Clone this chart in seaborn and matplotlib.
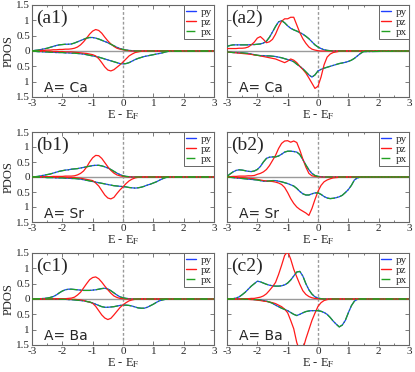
import matplotlib
matplotlib.use("Agg")
import matplotlib.pyplot as plt
from matplotlib.lines import Line2D
from matplotlib.ticker import MultipleLocator
import seaborn as sns

# energy grid (E - E_F), -3.0 .. 1.5 in 0.1 steps, then 3.0
energy = [-3.0, -2.9, -2.8, -2.7, -2.6, -2.5, -2.4, -2.3, -2.2, -2.1,
          -2.0, -1.9, -1.8, -1.7, -1.6, -1.5, -1.4, -1.3, -1.2, -1.1,
          -1.0, -0.9, -0.8, -0.7, -0.6, -0.5, -0.4, -0.3, -0.2, -0.1,
          0.0, 0.1, 0.2, 0.3, 0.4, 0.5, 0.6, 0.7, 0.8, 0.9,
          1.0, 1.1, 1.2, 1.3, 1.4, 1.5, 3.0]

# (a1) A = Ca
a1_py_up = [0.0, 0.02, 0.03, 0.05, 0.07, 0.09, 0.12, 0.15, 0.18, 0.2,
            0.21, 0.22, 0.22, 0.23, 0.26, 0.3, 0.34, 0.38, 0.42, 0.44,
            0.44, 0.42, 0.39, 0.35, 0.31, 0.27, 0.22, 0.17, 0.12, 0.08,
            0.05, 0.03, 0.02, 0.01, 0, 0, 0, 0, 0, 0,
            0, 0, 0, 0, 0, 0, 0]
a1_pz_up = [0.0, 0.01, 0.01, 0.02, 0.02, 0.03, 0.03, 0.04, 0.04, 0.05,
            0.05, 0.06, 0.06, 0.07, 0.09, 0.13, 0.2, 0.3, 0.42, 0.55,
            0.65, 0.7, 0.67, 0.58, 0.45, 0.33, 0.23, 0.15, 0.09, 0.06,
            0.04, 0.02, 0.01, 0, 0, 0, 0, 0, 0, 0,
            0, 0, 0, 0, 0, 0, 0]
a1_py_dn = [0, -0.01, -0.02, -0.02, -0.03, -0.03, -0.04, -0.04, -0.05, -0.05,
            -0.05, -0.06, -0.06, -0.07, -0.07, -0.08, -0.09, -0.1, -0.12, -0.14,
            -0.16, -0.18, -0.2, -0.23, -0.26, -0.29, -0.32, -0.35, -0.38, -0.41,
            -0.42, -0.41, -0.38, -0.33, -0.28, -0.24, -0.21, -0.18, -0.16, -0.14,
            -0.12, -0.1, -0.08, -0.06, -0.03, -0.01, 0]
a1_pz_dn = [0, 0, 0, -0.01, -0.01, -0.01, -0.01, -0.02, -0.02, -0.02,
            -0.02, -0.03, -0.03, -0.03, -0.04, -0.05, -0.06, -0.07, -0.08, -0.1,
            -0.12, -0.16, -0.25, -0.38, -0.52, -0.62, -0.65, -0.61, -0.53, -0.45,
            -0.36, -0.26, -0.16, -0.1, -0.05, -0.03, -0.01, 0, 0, 0,
            0, 0, 0, 0, 0, 0, 0]

# (a2) A = Ca
a2_py_up = [0.15, 0.18, 0.2, 0.2, 0.2, 0.2, 0.2, 0.2, 0.21, 0.21,
            0.22, 0.23, 0.26, 0.32, 0.45, 0.62, 0.8, 0.95, 0.99, 0.92,
            0.82, 0.74, 0.69, 0.65, 0.6, 0.55, 0.48, 0.4, 0.3, 0.2,
            0.13, 0.08, 0.04, 0.02, 0.01, 0, 0, 0, 0, 0,
            0, 0, 0, 0, 0, 0, 0]
a2_pz_up = [0.08, 0.08, 0.08, 0.08, 0.09, 0.09, 0.1, 0.13, 0.2, 0.29,
            0.42, 0.47, 0.38, 0.27, 0.3, 0.38, 0.55, 0.78, 0.97, 1.05,
            1.05, 1.1, 1.1, 0.85, 0.6, 0.4, 0.25, 0.13, 0.06, 0.03,
            0.01, 0, 0, 0, 0, 0, 0, 0, 0, 0,
            0, 0, 0, 0, 0, 0, 0]
a2_py_dn = [-0.03, -0.04, -0.05, -0.05, -0.06, -0.06, -0.07, -0.08, -0.1, -0.12,
            -0.14, -0.15, -0.15, -0.16, -0.16, -0.17, -0.18, -0.2, -0.22, -0.25,
            -0.28, -0.31, -0.35, -0.43, -0.5, -0.58, -0.68, -0.78, -0.85, -0.78,
            -0.65, -0.6, -0.56, -0.53, -0.5, -0.47, -0.44, -0.41, -0.39, -0.37,
            -0.34, -0.3, -0.24, -0.16, -0.08, -0.02, 0]
a2_pz_dn = [-0.03, -0.04, -0.05, -0.06, -0.07, -0.08, -0.09, -0.1, -0.11, -0.13,
            -0.14, -0.16, -0.18, -0.2, -0.22, -0.24, -0.26, -0.3, -0.34, -0.38,
            -0.33, -0.26, -0.3, -0.38, -0.5, -0.6, -0.72, -0.88, -1.05, -1.22,
            -1.15, -0.85, -0.45, -0.2, -0.1, -0.05, -0.03, -0.01, 0, 0,
            0, 0, 0, 0, 0, 0, 0]

# (b1) A = Sr
b1_py_up = [0, 0.01, 0.02, 0.04, 0.06, 0.08, 0.1, 0.13, 0.16, 0.19,
            0.21, 0.23, 0.24, 0.26, 0.27, 0.28, 0.3, 0.32, 0.34, 0.36,
            0.38, 0.39, 0.39, 0.37, 0.34, 0.3, 0.25, 0.19, 0.13, 0.08,
            0.04, 0.02, 0.01, 0, 0, 0, 0, 0, 0, 0,
            0, 0, 0, 0, 0, 0, 0]
b1_pz_up = [0, 0, 0, 0.01, 0.01, 0.01, 0.01, 0.02, 0.02, 0.02,
            0.02, 0.03, 0.03, 0.03, 0.04, 0.07, 0.12, 0.2, 0.33, 0.5,
            0.64, 0.72, 0.71, 0.62, 0.48, 0.34, 0.22, 0.13, 0.07, 0.04,
            0.02, 0.01, 0, 0, 0, 0, 0, 0, 0, 0,
            0, 0, 0, 0, 0, 0, 0]
b1_py_dn = [0, 0, -0.01, -0.01, -0.01, -0.02, -0.02, -0.02, -0.03, -0.03,
            -0.03, -0.04, -0.04, -0.05, -0.05, -0.06, -0.07, -0.09, -0.11, -0.13,
            -0.15, -0.17, -0.19, -0.21, -0.23, -0.25, -0.27, -0.29, -0.3, -0.31,
            -0.32, -0.33, -0.35, -0.36, -0.37, -0.36, -0.34, -0.31, -0.27, -0.24,
            -0.2, -0.16, -0.11, -0.06, -0.02, 0, 0]
b1_pz_dn = [0, 0, 0, 0, 0, 0, -0.01, -0.01, -0.01, -0.01,
            -0.01, -0.01, -0.02, -0.02, -0.02, -0.03, -0.04, -0.06, -0.08, -0.1,
            -0.12, -0.2, -0.3, -0.45, -0.6, -0.7, -0.73, -0.68, -0.55, -0.43,
            -0.33, -0.22, -0.13, -0.07, -0.03, -0.01, 0, 0, 0, 0,
            0, 0, 0, 0, 0, 0, 0]

# (b2) A = Sr
b2_py_up = [0.02, 0.1, 0.17, 0.22, 0.24, 0.23, 0.21, 0.19, 0.18, 0.2,
            0.25, 0.35, 0.5, 0.62, 0.66, 0.67, 0.67, 0.7, 0.76, 0.83,
            0.86, 0.86, 0.85, 0.83, 0.75, 0.58, 0.4, 0.24, 0.12, 0.05,
            0.02, 0.01, 0, 0, 0, 0, 0, 0, 0, 0,
            0, 0, 0, 0, 0, 0, 0]
b2_pz_up = [0.01, 0.01, 0.02, 0.02, 0.03, 0.03, 0.03, 0.04, 0.04, 0.05,
            0.09, 0.12, 0.17, 0.25, 0.38, 0.55, 0.72, 0.95, 1.12, 1.2,
            1.21, 1.16, 1.2, 1.15, 0.9, 0.6, 0.33, 0.12, 0.04, 0.02,
            0.01, 0, 0, 0, 0, 0, 0, 0, 0, 0,
            0, 0, 0, 0, 0, 0, 0]
b2_py_dn = [0, -0.01, -0.02, -0.03, -0.04, -0.05, -0.06, -0.07, -0.08, -0.09,
            -0.1, -0.12, -0.14, -0.14, -0.13, -0.12, -0.12, -0.14, -0.16, -0.19,
            -0.22, -0.26, -0.3, -0.38, -0.48, -0.56, -0.6, -0.6, -0.56, -0.53,
            -0.53, -0.58, -0.65, -0.7, -0.72, -0.71, -0.69, -0.66, -0.61, -0.52,
            -0.42, -0.28, -0.1, -0.03, 0, 0, 0]
b2_pz_dn = [-0.01, -0.01, -0.01, -0.02, -0.02, -0.02, -0.03, -0.04, -0.05, -0.06,
            -0.08, -0.1, -0.12, -0.13, -0.14, -0.15, -0.17, -0.2, -0.25, -0.35,
            -0.52, -0.72, -0.88, -1.0, -1.08, -1.14, -1.2, -1.28, -1.05, -0.75,
            -0.48, -0.28, -0.16, -0.1, -0.06, -0.03, -0.02, -0.01, 0, 0,
            0, 0, 0, 0, 0, 0, 0]

# (c1) A = Ba
c1_py_up = [0, 0, 0.01, 0.01, 0.02, 0.03, 0.05, 0.08, 0.13, 0.2,
            0.26, 0.3, 0.32, 0.32, 0.31, 0.3, 0.29, 0.28, 0.28, 0.28,
            0.29, 0.3, 0.32, 0.34, 0.35, 0.33, 0.27, 0.2, 0.13, 0.07,
            0.04, 0.02, 0.01, 0, 0, 0, 0, 0, 0, 0,
            0, 0, 0, 0, 0, 0, 0]
c1_pz_up = [0, 0, 0, 0, 0, 0, 0, 0.01, 0.01, 0.01,
            0.01, 0.01, 0.02, 0.03, 0.06, 0.13, 0.22, 0.36, 0.5, 0.63,
            0.7, 0.72, 0.66, 0.55, 0.42, 0.3, 0.19, 0.1, 0.05, 0.02,
            0.01, 0, 0, 0, 0, 0, 0, 0, 0, 0,
            0, 0, 0, 0, 0, 0, 0]
c1_py_dn = [0, 0, 0, 0, 0, 0, 0, 0, -0.01, -0.01,
            -0.01, -0.01, -0.02, -0.02, -0.03, -0.04, -0.05, -0.06, -0.08, -0.1,
            -0.13, -0.17, -0.21, -0.25, -0.27, -0.27, -0.26, -0.25, -0.23, -0.21,
            -0.2, -0.2, -0.21, -0.23, -0.26, -0.29, -0.3, -0.3, -0.27, -0.22,
            -0.17, -0.11, -0.06, -0.03, -0.01, 0, 0]
c1_pz_dn = [0, 0, 0, 0, 0, 0, 0, 0, 0, 0,
            0, 0, -0.01, -0.01, -0.01, -0.02, -0.03, -0.05, -0.08, -0.1,
            -0.14, -0.24, -0.38, -0.52, -0.62, -0.67, -0.63, -0.52, -0.4, -0.28,
            -0.19, -0.12, -0.06, -0.03, -0.01, 0, 0, 0, 0, 0,
            0, 0, 0, 0, 0, 0, 0]

# (c2) A = Ba
c2_py_up = [0, 0, 0.01, 0.03, 0.07, 0.14, 0.22, 0.32, 0.42, 0.5,
            0.58, 0.56, 0.52, 0.48, 0.45, 0.43, 0.42, 0.42, 0.43, 0.46,
            0.52, 0.62, 0.75, 0.88, 0.9, 0.75, 0.5, 0.3, 0.16, 0.07,
            0.03, 0.01, 0, 0, 0, 0, 0, 0, 0, 0,
            0, 0, 0, 0, 0, 0, 0]
c2_pz_up = [0, 0, 0, 0, 0, 0.01, 0.01, 0.01, 0.02, 0.02,
            0.04, 0.06, 0.1, 0.17, 0.28, 0.4, 0.54, 0.8, 1.1, 1.42,
            1.55, 1.3, 0.97, 0.72, 0.48, 0.27, 0.15, 0.08, 0.04, 0.02,
            0.01, 0, 0, 0, 0, 0, 0, 0, 0, 0,
            0, 0, 0, 0, 0, 0, 0]
c2_py_dn = [0, 0, 0, 0, 0, 0, -0.01, -0.01, -0.01, -0.02,
            -0.02, -0.03, -0.05, -0.07, -0.1, -0.14, -0.2, -0.25, -0.3, -0.34,
            -0.38, -0.44, -0.5, -0.54, -0.5, -0.45, -0.41, -0.39, -0.38, -0.38,
            -0.38, -0.4, -0.44, -0.5, -0.6, -0.72, -0.82, -0.91, -0.85, -0.7,
            -0.45, -0.22, -0.07, -0.01, 0, 0, 0]
c2_pz_dn = [0, 0, 0, 0, 0, 0, 0, -0.01, -0.02, -0.02,
            -0.04, -0.05, -0.07, -0.08, -0.1, -0.12, -0.15, -0.2, -0.25, -0.33,
            -0.45, -0.7, -0.97, -1.42, -1.7, -1.65, -1.3, -1.0, -0.7, -0.46,
            -0.24, -0.12, -0.05, -0.02, 0, 0, 0, 0, 0, 0,
            0, 0, 0, 0, 0, 0, 0]

panel_tags = ["(a1)", "(a2)", "(b1)", "(b2)", "(c1)", "(c2)"]
site_labels = ["A= Ca", "A= Ca", "A= Sr", "A= Sr", "A= Ba", "A= Ba"]
y_ticks = [-1.5, -1, -0.5, 0, 0.5, 1, 1.5]
y_ticklabels = ["1.5", "1", "0.5", "0", "0.5", "1", "1.5"]

panels = [
    (a1_py_up, a1_py_dn, a1_pz_up, a1_pz_dn),
    (a2_py_up, a2_py_dn, a2_pz_up, a2_pz_dn),
    (b1_py_up, b1_py_dn, b1_pz_up, b1_pz_dn),
    (b2_py_up, b2_py_dn, b2_pz_up, b2_pz_dn),
    (c1_py_up, c1_py_dn, c1_pz_up, c1_pz_dn),
    (c2_py_up, c2_py_dn, c2_pz_up, c2_pz_dn),
]

sns.set_style("ticks")
plt.rcParams["font.family"] = ["Liberation Serif", "DejaVu Serif"]
plt.rcParams["mathtext.fontset"] = "stix"
plt.rcParams["axes.unicode_minus"] = False

c_py, c_pz, c_px = "#1f3fff", "#ff1a1a", "#22a022"
frame = "#666666"

fig = plt.figure(figsize=(4.15, 3.72), dpi=100)
lefts = [32 / 415, 227 / 415]
width = 182 / 415
rows = [(5, 97), (132, 222), (253, 345)]

for k, (py_up, py_dn, pz_up, pz_dn) in enumerate(panels):
    r, c = divmod(k, 2)
    top, bot = rows[r]
    ax = fig.add_axes([lefts[c], 1 - bot / 372, width, (bot - top) / 372])

    ax.axhline(0, color="#9a9a9a", lw=1.0, zorder=1)
    ax.axvline(0, color="#999999", lw=1.0, ls=(0, (2, 1.5)), zorder=1)
    # px lies on top of py in every panel
    for up, dn, col, ls in [(py_up, py_dn, c_py, "-"), (pz_up, pz_dn, c_pz, "-"),
                            (py_up, py_dn, c_px, "-.")]:
        sns.lineplot(x=energy, y=up, ax=ax, color=col, lw=0.9, ls=ls, sort=False, zorder=3)
        sns.lineplot(x=energy, y=dn, ax=ax, color=col, lw=0.9, ls=ls, sort=False, zorder=3)

    ax.set_xlim(-3, 3)
    ax.set_ylim(-1.5, 1.5)
    ax.set_xticks(range(-3, 4))
    ax.xaxis.set_minor_locator(MultipleLocator(0.5))
    ax.set_yticks(y_ticks)
    if c == 0:
        ax.set_yticklabels(y_ticklabels)
        ax.set_ylabel("PDOS", fontsize=9, labelpad=1)
    else:
        ax.set_yticklabels([])
        ax.set_ylabel("")
    ax.tick_params(which="both", direction="in", top=True, right=True,
                   labelsize=8, pad=1.5, width=0.6, color=frame)
    ax.tick_params(which="major", length=3)
    ax.tick_params(which="minor", length=1.5)
    ax.set_xlabel(r"E - E$_{\rm F}$", fontsize=9, labelpad=0)
    for s in ax.spines.values():
        s.set_color(frame)
        s.set_linewidth(0.8)

    ax.text(0.025, 0.95, panel_tags[k], transform=ax.transAxes, fontsize=14,
            va="top", ha="left")
    ax.text(0.066, 0.05, site_labels[k], transform=ax.transAxes, fontsize=10,
            family="DejaVu Sans", va="baseline", ha="left")

    handles = [Line2D([], [], color=c_py, lw=1, ls="-"),
               Line2D([], [], color=c_pz, lw=1, ls="-"),
               Line2D([], [], color=c_px, lw=1, ls="-.")]
    leg = ax.legend(handles, ["py", "pz", "px"], loc="upper right", fontsize=8,
                    frameon=True, fancybox=False, framealpha=1, borderaxespad=0,
                    handlelength=0.9, handletextpad=0.4, labelspacing=0.0,
                    borderpad=0.2)
    leg.get_frame().set_edgecolor(frame)
    leg.get_frame().set_linewidth(0.7)

fig.savefig("out.png", dpi=100)
